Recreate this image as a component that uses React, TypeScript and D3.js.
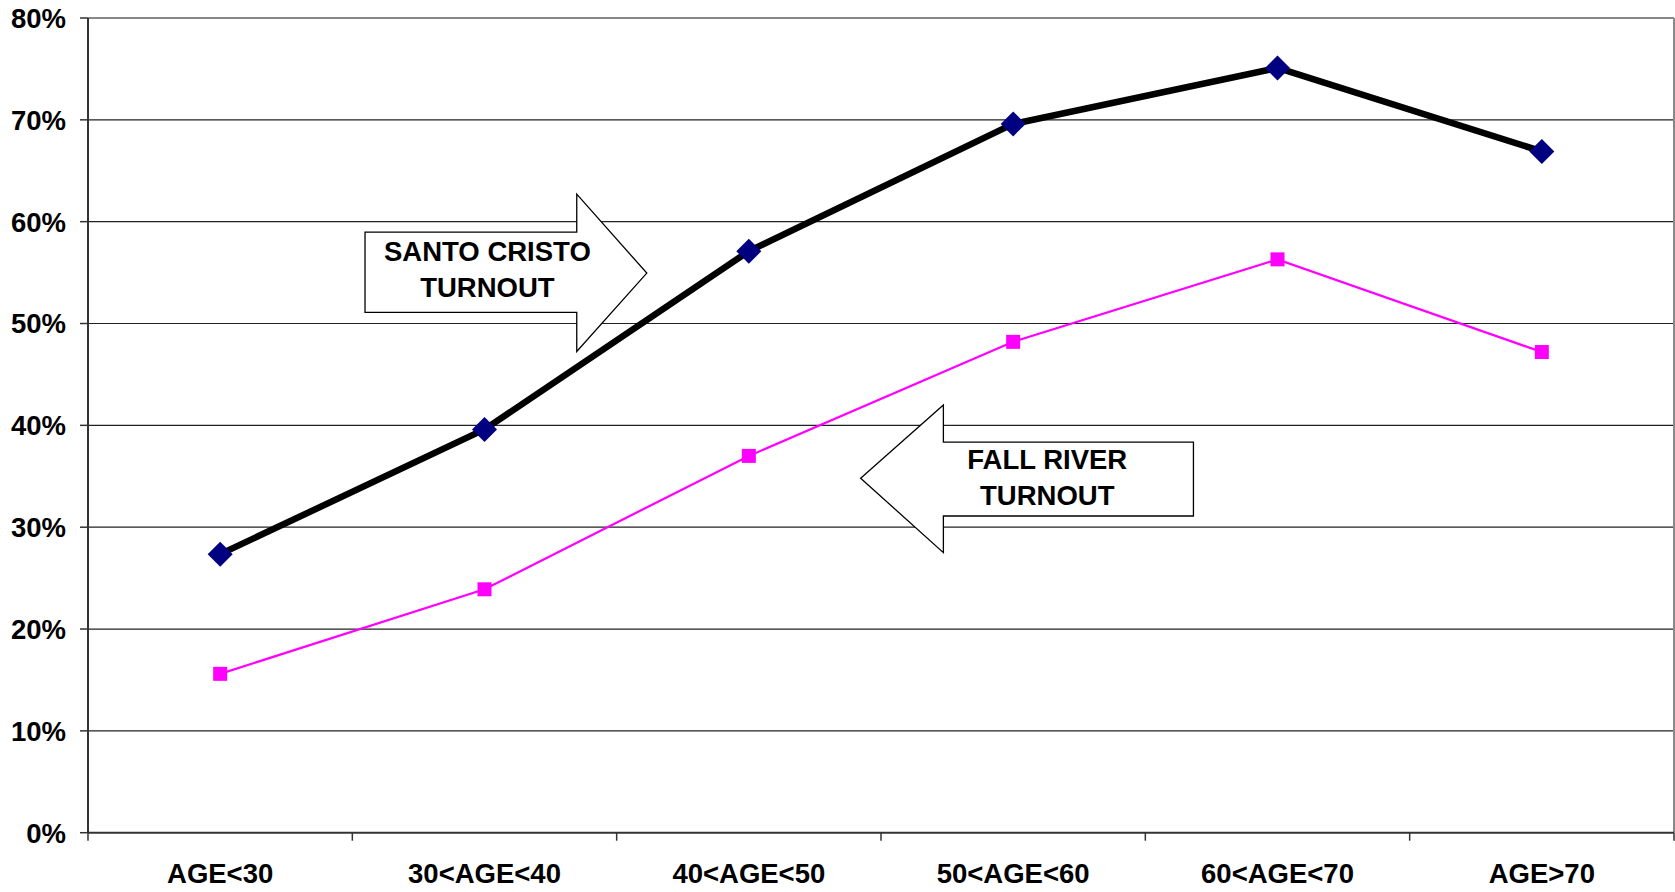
import React from "react";
import * as d3 from "d3";

const categories = ["AGE<30", "30<AGE<40", "40<AGE<50", "50<AGE<60", "60<AGE<70", "AGE>70"];
const santoCristo = [27.35, 39.6, 57.1, 69.6, 75.1, 66.9];
const fallRiver = [15.6, 23.9, 37.0, 48.2, 56.3, 47.2];
const yTicks = [0, 10, 20, 30, 40, 50, 60, 70, 80];
const santoLabel = ["SANTO CRISTO", "TURNOUT"];
const fallLabel = ["FALL RIVER", "TURNOUT"];

const W = 1675;
const H = 892;
const M = { left: 88, right: 1674, top: 18, bottom: 832.7 };
const FONT = "'Liberation Sans', Arial, Helvetica, sans-serif";

export default function App() {
  const x = d3.scalePoint<string>().domain(categories).range([M.left, M.right]).padding(0.5);
  const xi = d3.scaleLinear().domain([-0.5, categories.length - 0.5]).range([M.left, M.right]);
  const y = d3.scaleLinear().domain([0, 80]).range([M.bottom, M.top]);

  const line = d3
    .line<number>()
    .x((_, i) => x(categories[i]) as number)
    .y((d) => y(d));

  const bandW = (M.right - M.left) / categories.length;
  const xTickPos = d3.range(categories.length + 1).map((i) => M.left + i * bandW);

  // annotation arrows expressed in data units (category index, percent)
  const santoArrow: [number, number][] = [
    [0.548, 58.98],
    [1.349, 58.98],
    [1.349, 62.7],
    [1.614, 54.95],
    [1.349, 47.25],
    [1.349, 51.1],
    [0.548, 51.1],
  ];
  const fallArrow: [number, number][] = [
    [3.682, 38.35],
    [2.736, 38.35],
    [2.736, 42.0],
    [2.423, 34.81],
    [2.736, 27.5],
    [2.736, 31.1],
    [3.682, 31.1],
  ];
  const poly = (pts: [number, number][]) =>
    pts.map(([a, b]) => `${xi(a)},${y(b)}`).join(" ");

  return (
    <svg
      width={W}
      height={H}
      style={{ position: "absolute", left: 0, top: 0, background: "#fff" }}
      fontFamily={FONT}
    >
      <rect x={0} y={0} width={W} height={H} fill="#fff" />
      {/* gridlines */}
      {yTicks.slice(1, -1).map((t) => (
        <line key={t} x1={M.left} x2={M.right} y1={y(t)} y2={y(t)} stroke="#222" strokeWidth={1.2} />
      ))}
      {/* plot border */}
      <line x1={M.left} x2={M.right} y1={y(80)} y2={y(80)} stroke="#888" strokeWidth={2} />
      <line x1={M.right} x2={M.right} y1={y(80)} y2={y(0)} stroke="#888" strokeWidth={2} />
      {/* axes */}
      <line x1={M.left} x2={M.left} y1={y(80)} y2={y(0)} stroke="#333" strokeWidth={2} />
      <line x1={M.left} x2={M.right} y1={y(0)} y2={y(0)} stroke="#333" strokeWidth={2} />
      {yTicks.map((t) => (
        <g key={t}>
          <line x1={M.left - 8} x2={M.left} y1={y(t)} y2={y(t)} stroke="#333" strokeWidth={1.5} />
          <text
            x={66}
            y={y(t)}
            dy="0.36em"
            textAnchor="end"
            fontSize={27.5}
            fontWeight="bold"
            fill="#000"
          >
            {t}%
          </text>
        </g>
      ))}
      {xTickPos.map((p, i) => (
        <line key={i} x1={p} x2={p} y1={y(0)} y2={y(0) + 8} stroke="#333" strokeWidth={1.5} />
      ))}
      {categories.map((c) => (
        <text
          key={c}
          x={x(c)}
          y={883}
          textAnchor="middle"
          fontSize={27.5}
          fontWeight="bold"
          fill="#000"
        >
          {c}
        </text>
      ))}

      {/* arrows */}
      <polygon points={poly(santoArrow)} fill="#fff" stroke="#000" strokeWidth={1.3} />
      {santoLabel.map((s, i) => (
        <text
          key={s + i}
          x={xi(1.011)}
          y={y(i === 0 ? 56.15 : 52.65)}
          textAnchor="middle"
          fontSize={27.5}
          fontWeight="bold"
          fill="#000"
        >
          {s}
        </text>
      ))}
      <polygon points={poly(fallArrow)} fill="#fff" stroke="#000" strokeWidth={1.3} />
      {fallLabel.map((s, i) => (
        <text
          key={s + i}
          x={xi(3.129)}
          y={y(i === 0 ? 35.73 : 32.19)}
          textAnchor="middle"
          fontSize={27.5}
          fontWeight="bold"
          fill="#000"
        >
          {s}
        </text>
      ))}

      {/* Fall River series */}
      <path d={line(fallRiver) || ""} fill="none" stroke="#FF00FF" strokeWidth={2.2} />
      {fallRiver.map((v, i) => (
        <rect
          key={i}
          x={(x(categories[i]) as number) - 7}
          y={y(v) - 7}
          width={14}
          height={14}
          fill="#FF00FF"
        />
      ))}

      {/* Santo Cristo series */}
      <path d={line(santoCristo) || ""} fill="none" stroke="#000" strokeWidth={6.5} strokeLinejoin="round" />
      {santoCristo.map((v, i) => {
        const cx = x(categories[i]) as number;
        const cy = y(v);
        const r = 12.5;
        return (
          <polygon
            key={i}
            points={`${cx},${cy - r} ${cx + r},${cy} ${cx},${cy + r} ${cx - r},${cy}`}
            fill="#000080"
          />
        );
      })}
    </svg>
  );
}
